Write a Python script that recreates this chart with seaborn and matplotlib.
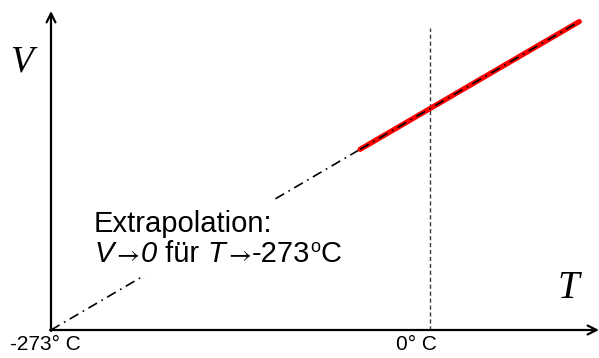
import matplotlib
matplotlib.use("Agg")
import matplotlib.pyplot as plt
from matplotlib.transforms import IdentityTransform
from matplotlib.patches import Rectangle
import seaborn as sns
import pandas as pd

# ---- data ----
extrap_T = [-273, -50]          # °C, dash-dot extrapolation
extrap_V = [0.0, 18.4]
meas_T = [-50, 108]             # °C, measured range (red)
meas_V = [18.4, 31.4]
zero_T = [0, 0]                 # 0 °C reference line
zero_V = [0.0, 30.8]
tick_labels = ["-273° C", "0° C"]

sns.set_theme(style="white")
plt.rcParams["font.family"] = ["Liberation Sans", "DejaVu Sans"]

W, H = 599, 358
fig = plt.figure(figsize=(W / 100, H / 100), dpi=100)
ax = fig.add_axes([0, 0, 1, 1])

# pixel mapping: origin (51,330), 0°C at x=429, V=22.4 at y=110
sx = (429.5 - 51) / 273.0
sy = (330 - 110) / 22.4
ax.set_xlim(-273 - 51 / sx, -273 + (W - 51) / sx)
ax.set_ylim(-(H - 330) / sy, 330 / sy)
ax.set_axis_off()

def px(x, y):
    return (-273 + (x - 51) / sx, (330 - y) / sy)

df_ex = pd.DataFrame({"T": extrap_T, "V": extrap_V})
df_me = pd.DataFrame({"T": meas_T, "V": meas_V})
df_z = pd.DataFrame({"T": zero_T, "V": zero_V})

common = dict(ax=ax, sort=False, estimator=None, errorbar=None)
sns.lineplot(data=df_z, x="T", y="V", color="#3a3a3a", lw=1.0,
             **common).lines[-1].set_linestyle((0, (3, 2)))
sns.lineplot(data=df_ex, x="T", y="V", color="black", lw=1.2,
             **common).lines[-1].set_linestyle((0, (6, 3, 1, 3)))
sns.lineplot(data=df_me, x="T", y="V", color="#ff0000", lw=3.8,
             **common).lines[-1].set_solid_capstyle("round")
sns.lineplot(data=df_me, x="T", y="V", color="black", lw=1.2,
             **common).lines[-1].set_linestyle((0, (6, 3, 1, 3)))

# axes with arrows
ax.annotate("", xy=px(599, 330), xytext=px(50, 330),
            arrowprops=dict(arrowstyle="->", lw=1.6, color="black",
                            mutation_scale=16, shrinkA=0, shrinkB=0))
ax.annotate("", xy=px(51, 11), xytext=px(51, 331),
            arrowprops=dict(arrowstyle="->", lw=1.6, color="black",
                            mutation_scale=16, shrinkA=0, shrinkB=0))

# axis letters
ax.text(*px(21, 62), "V", family="Liberation Serif", style="italic",
        fontsize=27, ha="center", va="center", color="black")
ax.text(*px(568, 289), "T", family="Liberation Serif", style="italic",
        fontsize=28, ha="center", va="center", color="black")

# tick labels
ax.text(*px(45, 345), tick_labels[0], fontsize=15, ha="center", va="center", color="black")
ax.text(*px(416, 345), tick_labels[1], fontsize=15, ha="center", va="center", color="black")

# white text box covering the extrapolated line
fig.patches.append(Rectangle((88, H - 276), 272, 76, transform=IdentityTransform(),
                             facecolor="white", edgecolor="none", zorder=5))

# annotation
FS = 21
fig.text(94, H - 231.5, "Extrapolation:", fontsize=FS, ha="left", va="baseline",
         color="black", transform=IdentityTransform(), zorder=6)

renderer = fig.canvas.get_renderer()
pieces = [
    ("V", dict(style="italic"), 0),
    (r"$\rightarrow$", dict(math_fontfamily="stix", fontsize=18), 0),
    ("0", dict(style="italic"), 0),
    (" für ", dict(), 0),
    ("T", dict(style="italic"), 0),
    (r"$\rightarrow$", dict(math_fontfamily="stix", fontsize=18), 0),
    ("-273", dict(), 0),
    ("o", dict(fontsize=13), 10),
    ("C", dict(), 0),
]
x0 = 94.0
base = H - 261.5   # display coords (from bottom)
for s, kw, dy in pieces:
    opts = dict(fontsize=FS, color="black", ha="left", va="baseline", zorder=6)
    opts.update(kw)
    t = fig.text(x0, base + dy, s, transform=IdentityTransform(), **opts)
    x0 += t.get_window_extent(renderer).width

fig.savefig("out.png", dpi=100)
